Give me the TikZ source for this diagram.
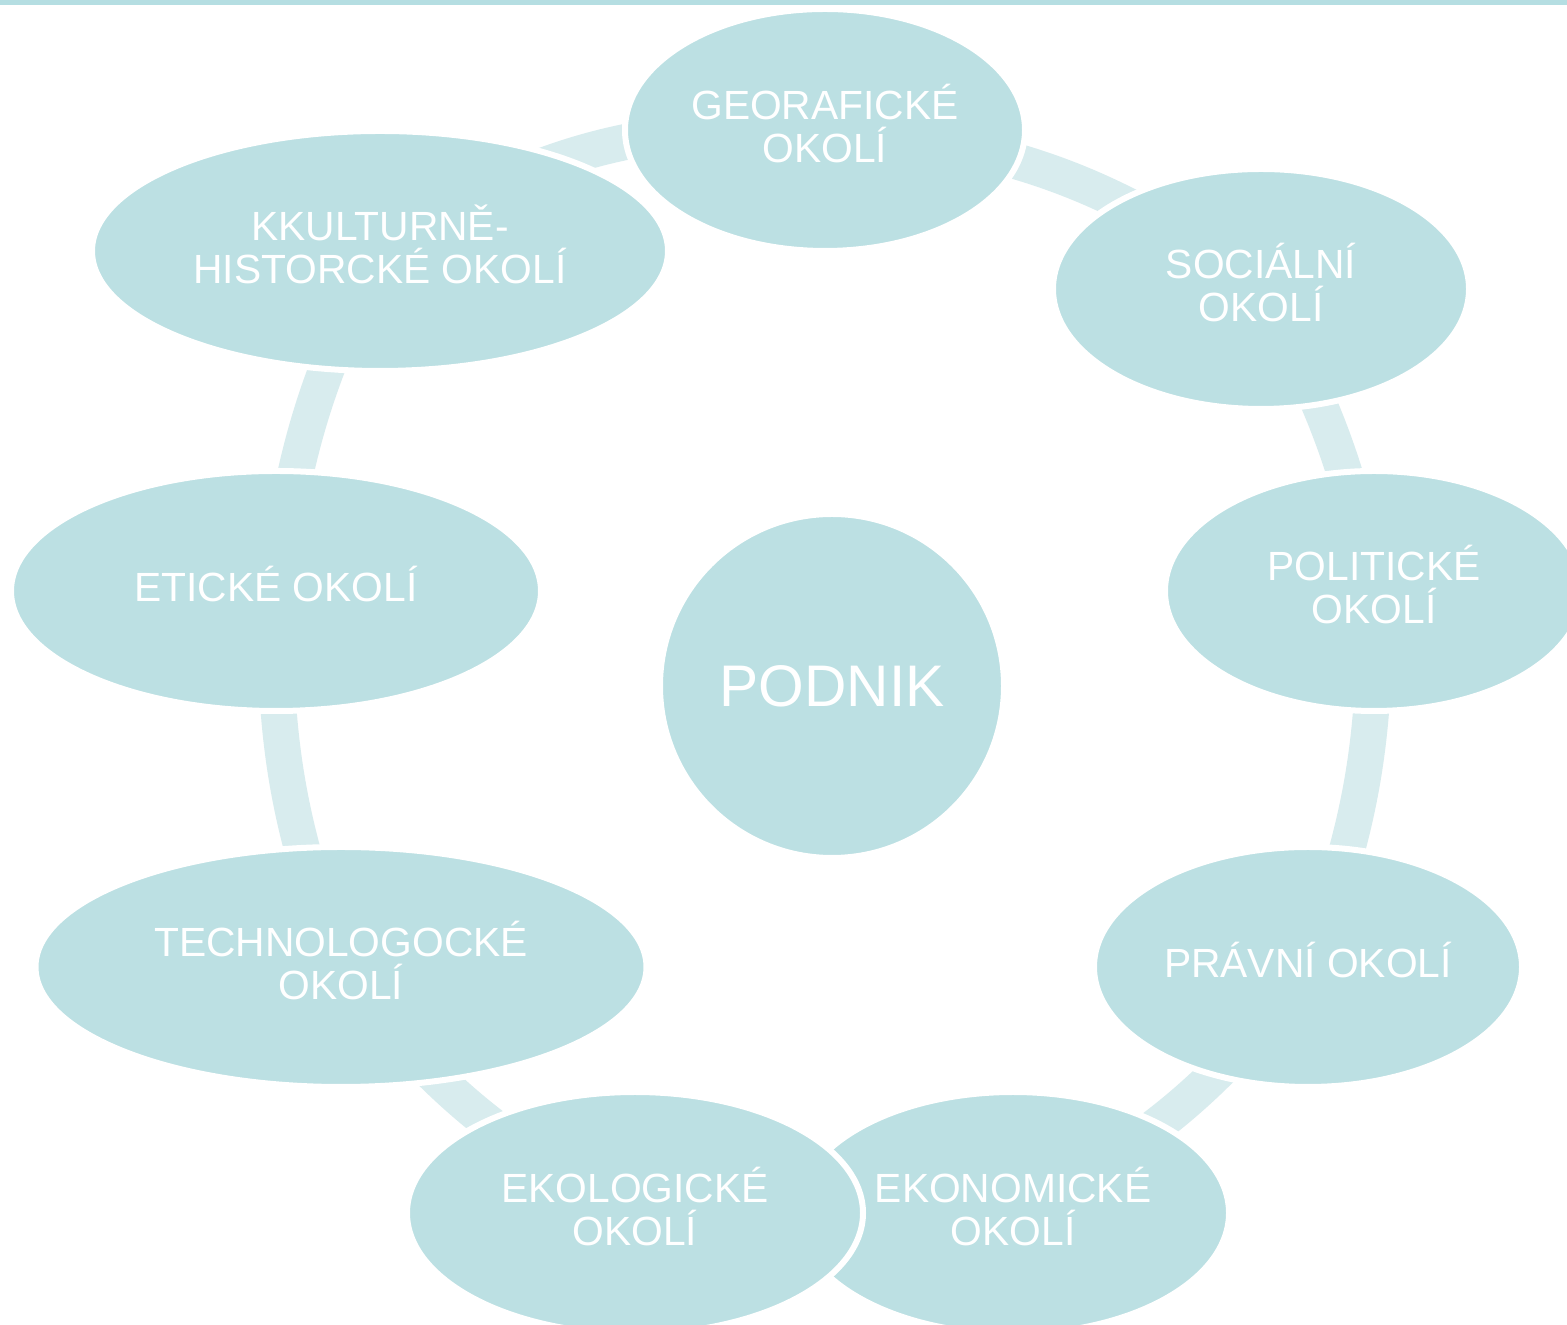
\documentclass[tikz,border=0pt]{standalone}
\usepackage{fontspec}
\setmainfont{Liberation Sans}
\usetikzlibrary{shapes.geometric,backgrounds}
\definecolor{okoli}{RGB}{188,224,227}
\definecolor{pasbarva}{RGB}{216,236,238}
\definecolor{linka}{RGB}{181,222,226}

\begin{document}
\begin{tikzpicture}[
    oblast/.style={ellipse, fill=okoli, draw=white, line width=0.06cm, inner sep=0pt,
        text=white, align=center, font=\fontsize{11.6pt}{12.2pt}\selectfont, text depth=4pt},
    pas/.style={draw=pasbarva, line width=0.36cm}
]
    \useasboundingbox (0,0) rectangle (15.67,13.25);
    \fill[linka] (0,13.20) rectangle (15.67,13.25);
    \node[oblast, minimum width=4.00cm, minimum height=2.42cm] (geo) at (8.25,11.95) {GEORAFICKÉ\\OKOLÍ};
    \node[oblast, minimum width=4.16cm, minimum height=2.40cm] (soc) at (12.61,10.36) {SOCIÁLNÍ\\OKOLÍ};
    \node[oblast, minimum width=4.18cm, minimum height=2.40cm] (pol) at (13.74,7.34) {POLITICKÉ\\OKOLÍ};
    \node[oblast, minimum width=4.28cm, minimum height=2.40cm] (prav) at (13.08,3.58) {PRÁVNÍ OKOLÍ};
    \node[oblast, minimum width=4.32cm, minimum height=2.42cm] (ekon) at (10.13,1.12) {EKONOMICKÉ\\OKOLÍ};
    \node[oblast, minimum width=4.56cm, minimum height=2.42cm] (ekol) at (6.35,1.12) {EKOLOGICKÉ\\OKOLÍ};
    \node[oblast, minimum width=6.11cm, minimum height=2.40cm] (tech) at (3.41,3.58) {TECHNOLOGOCKÉ\\OKOLÍ};
    \node[oblast, minimum width=5.30cm, minimum height=2.40cm] (etic) at (2.76,7.34) {ETICKÉ OKOLÍ};
    \node[oblast, minimum width=5.76cm, minimum height=2.40cm] (kult) at (3.80,10.74) {KKULTURNĚ-\\HISTORCKÉ OKOLÍ};
    \node[oblast, circle, minimum size=3.44cm, text depth=0pt,
        font=\fontsize{16.7pt}{20pt}\selectfont] (podnik) at (8.32,6.39) {PODNIK};
    \begin{scope}[on background layer]
        \fill[white] (0,0) rectangle (15.67,13.20);
        \draw[pas] (kult.center) to[bend left=18] (geo.center);
        \draw[pas] (geo.center) to[bend left=16] (soc.center);
        \draw[pas] (soc.center) to[bend left=9] (pol.center);
        \draw[pas] (pol.center) to[bend left=11] (prav.center);
        \draw[pas] (prav.center) to[bend left=13] (ekon.center);
        \draw[pas] (ekol.center) to[bend left=13] (tech.center);
        \draw[pas] (tech.center) to[bend left=11] (etic.center);
        \draw[pas] (etic.center) to[bend left=10] (kult.center);
    \end{scope}
\end{tikzpicture}
\end{document}
